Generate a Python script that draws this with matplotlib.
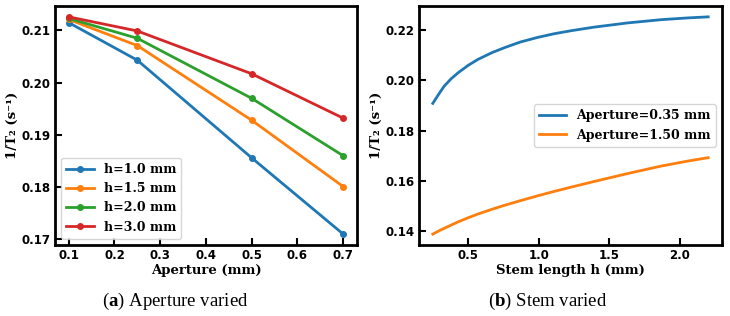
import matplotlib.pyplot as plt
import numpy as np

plt.rcParams["mathtext.fontset"] = "custom"
plt.rcParams["mathtext.rm"] = "Liberation Serif"
plt.rcParams["mathtext.bf"] = "Liberation Serif:bold"

# panel (a): 1/T2 vs aperture for several stem lengths
aperture = [0.1, 0.25, 0.5, 0.7]
h_labels = ["h=1.0 mm", "h=1.5 mm", "h=2.0 mm", "h=3.0 mm"]
rate_h10 = [0.2115, 0.2043, 0.1856, 0.1710]
rate_h15 = [0.2121, 0.2071, 0.1928, 0.1801]
rate_h20 = [0.2123, 0.2085, 0.1970, 0.1860]
rate_h30 = [0.2126, 0.2099, 0.2017, 0.1932]

# panel (b): 1/T2 vs stem length for two apertures
stem = [0.25, 0.29, 0.33, 0.38, 0.43, 0.50, 0.57, 0.67, 0.76, 0.87, 0.99,
        1.11, 1.23, 1.39, 1.63, 1.87, 2.06, 2.2]
rate_a035 = [0.1908, 0.1943, 0.1976, 0.2006, 0.2030, 0.2059, 0.2083, 0.2110,
             0.2130, 0.2152, 0.2170, 0.2185, 0.2197, 0.2211, 0.2228, 0.2241,
             0.2248, 0.2252]
rate_a150 = [0.1388, 0.1400, 0.1411, 0.1424, 0.1437, 0.1453, 0.1468, 0.1487,
             0.1503, 0.1521, 0.1540, 0.1558, 0.1575, 0.1597, 0.1629, 0.1659,
             0.1679, 0.1692]

label_font = dict(family="DejaVu Serif", weight="bold", size=9.5)

fig = plt.figure(figsize=(7.3, 3.16), dpi=100)
ax1 = fig.add_axes([0.0753, 0.2247, 0.4137, 0.7563])
ax2 = fig.add_axes([0.574, 0.2247, 0.415, 0.7563])

colors = ["#1f77b4", "#ff7f0e", "#2ca02c", "#d62728"]
for ys, lab, c in zip([rate_h10, rate_h15, rate_h20, rate_h30], h_labels, colors):
    ax1.plot(aperture, ys, "-o", color=c, lw=2, ms=4, label=lab)

ax2.plot(stem, rate_a035, color=colors[0], lw=2, label="Aperture=0.35 mm")
ax2.plot(stem, rate_a150, color=colors[1], lw=2, label="Aperture=1.50 mm")

ax1.set_xticks([0.1, 0.2, 0.3, 0.4, 0.5, 0.6, 0.7])
ax1.set_yticks([0.17, 0.18, 0.19, 0.20, 0.21])
ax2.set_xticks([0.5, 1.0, 1.5, 2.0])
ax2.set_yticks([0.14, 0.16, 0.18, 0.20, 0.22])

ax1.set_xlabel("Aperture (mm)", fontdict=label_font, labelpad=1)
ax2.set_xlabel("Stem length h (mm)", fontdict=label_font, labelpad=1)
for ax in (ax1, ax2):
    ax.set_ylabel("1/T\u2082 (s\u207b\u00b9)", fontdict=label_font, labelpad=2)
    ax.tick_params(direction="in", length=5, width=1.5, pad=3)
    for t in ax.get_xticklabels() + ax.get_yticklabels():
        t.set_fontfamily("DejaVu Sans")
        t.set_fontweight("bold")
        t.set_fontsize(8.5)
    for s in ax.spines.values():
        s.set_linewidth(2)
    ax.yaxis.set_major_formatter(plt.FormatStrFormatter("%.2f"))

leg_font = dict(family="DejaVu Serif", weight="bold", size=9)
ax1.legend(loc="lower left", prop=leg_font, handlelength=2.2)
ax2.legend(loc="center right", prop=leg_font, handlelength=2.2)

cap = dict(family="Liberation Serif", size=13.5, ha="center", va="center")
fig.text(0.24, 0.045, r"($\mathbf{a}$) Aperture varied", **cap)
fig.text(0.75, 0.045, r"($\mathbf{b}$) Stem varied", **cap)

plt.savefig("out.png")
